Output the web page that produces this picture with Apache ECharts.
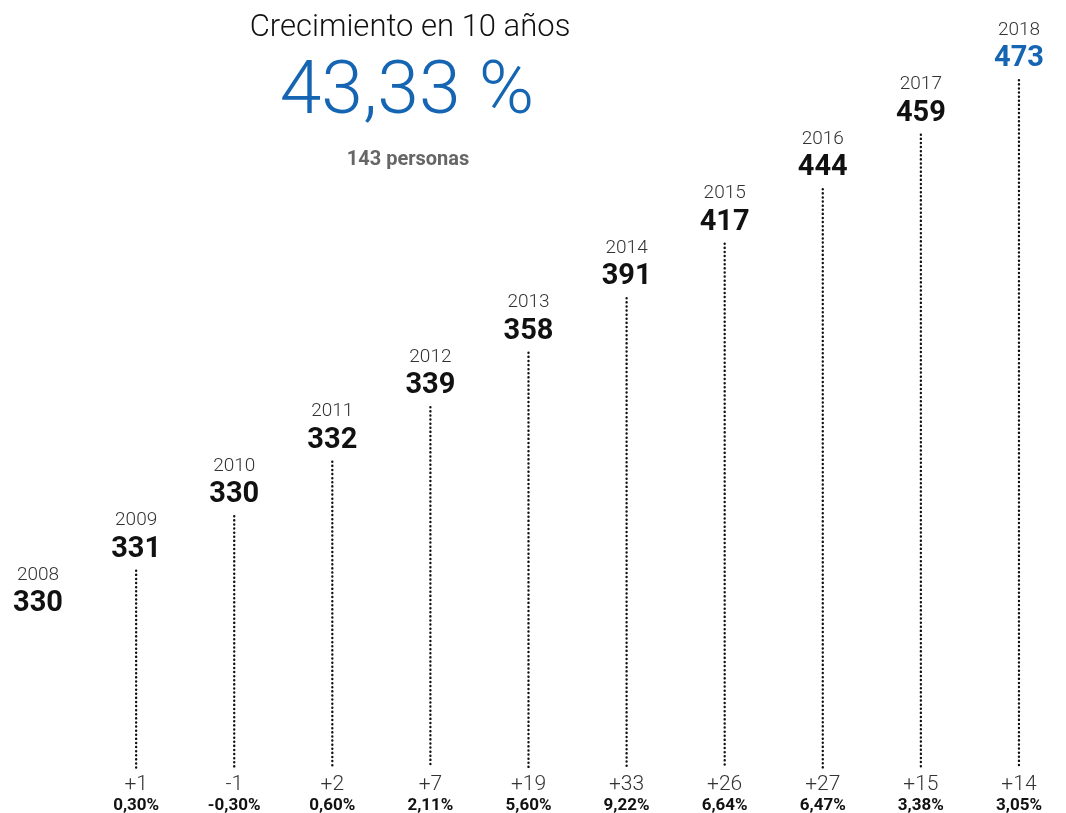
<!DOCTYPE html>
<html><head><meta charset="utf-8">
<script src="https://cdn.jsdelivr.net/npm/echarts@6/dist/echarts.min.js"></script>
<style>html,body{margin:0;padding:0;background:#fff}#c{width:1066px;height:813px}</style>
</head><body><div id="c"></div>
<script>
var years = ['2008','2009','2010','2011','2012','2013','2014','2015','2016','2017','2018'];
var values = [330, 331, 330, 332, 339, 358, 391, 417, 444, 459, 473];
var changes = ['', '+1', '-1', '+2', '+7', '+19', '+33', '+26', '+27', '+15', '+14'];
var percents = ['', '0,30%', '-0,30%', '0,60%', '2,11%', '5,60%', '9,22%', '6,64%', '6,47%', '3,38%', '3,05%'];
var titleText = 'Crecimiento en 10 años';
var growthText = '43,33 %';
var personsText = '143 personas';

var FONT = 'Roboto, "Liberation Sans", sans-serif';
var BASE = 2.62; // vertical offset of the staircase (layout)
var chart = echarts.init(document.getElementById('c'));
chart.setOption({
  animation: false,
  grid: { left: -11, right: -2, top: 5, bottom: 45, outerBoundsMode: 'none', containLabel: false },
  xAxis: {
    type: 'category', data: years,
    axisLine: { show: false }, axisTick: { show: false },
    axisLabel: {
      margin: 6,
      formatter: function (v, i) { return changes[i] ? '{a|' + changes[i] + '}\n{b|' + percents[i] + '}' : ''; },
      rich: {
        a: { fontFamily: FONT, fontSize: 21, fontWeight: 300, color: '#333', lineHeight: 21 },
        b: { fontFamily: FONT, fontSize: 17, fontWeight: 'bold', color: '#111', lineHeight: 21 }
      }
    }
  },
  yAxis: { type: 'value', min: 0, max: 14, show: false, splitLine: { show: false } },
  series: [{
    type: 'custom',
    data: values.map(function (v, i) { return [i, v]; }),
    renderItem: function (params, api) {
      var i = api.value(0);
      var top = api.coord([i, i + BASE]);
      var bot = api.coord([i, 0]);
      var children = [];
      if (i > 0) {
        children.push({ type: 'line', shape: { x1: top[0], y1: top[1], x2: bot[0], y2: bot[1] },
          style: { stroke: '#111', lineWidth: 2.4, lineDash: [0.1, 4], lineCap: 'round' } });
      }
      children.push({ type: 'text', x: top[0], y: top[1] - 21,
        style: { text: String(api.value(1)), fontFamily: FONT, fontSize: 29, fontWeight: 'bold',
          fill: i === values.length - 1 ? '#1565b3' : '#111', align: 'center', verticalAlign: 'middle' } });
      children.push({ type: 'text', x: top[0], y: top[1] - 50,
        style: { text: years[i], fontFamily: FONT, fontSize: 19, fontWeight: 300, fill: '#333',
          align: 'center', verticalAlign: 'middle' } });
      return { type: 'group', children: children };
    }
  }],
  graphic: [
    { type: 'text', x: 410, y: 28, style: { text: titleText, fontFamily: FONT, fontSize: 31, fontWeight: 300,
      fill: '#111', align: 'center', verticalAlign: 'middle' } },
    { type: 'text', x: 407, y: 94, style: { text: growthText, fontFamily: FONT, fontSize: 75, fontWeight: 300,
      fill: '#1565b3', align: 'center', verticalAlign: 'middle' } },
    { type: 'text', x: 408, y: 160, style: { text: personsText, fontFamily: FONT, fontSize: 20, fontWeight: 'bold',
      fill: '#666', align: 'center', verticalAlign: 'middle' } }
  ]
});
</script></body></html>
